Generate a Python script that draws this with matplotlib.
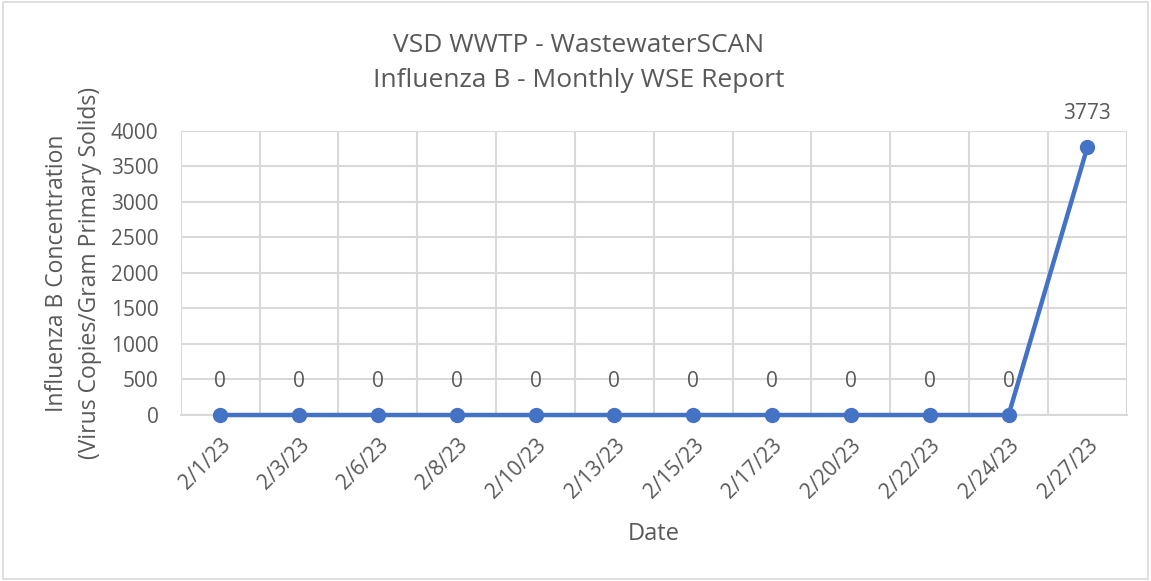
import numpy as np
import matplotlib.pyplot as plt
import matplotlib.patches as patches

dates = ['2/1/23', '2/3/23', '2/6/23', '2/8/23', '2/10/23', '2/13/23',
         '2/15/23', '2/17/23', '2/20/23', '2/22/23', '2/24/23', '2/27/23']
conc = [0, 0, 0, 0, 0, 0, 0, 0, 0, 0, 0, 3773]

yticks = [0, 500, 1000, 1500, 2000, 2500, 3000, 3500, 4000]

plt.rcParams['font.family'] = ['Open Sans', 'DejaVu Sans']
txt = '#595959'
grid = '#D9D9D9'
blue = '#4472C4'

fig = plt.figure(figsize=(11.51, 5.81), dpi=100)
ax = fig.add_axes([0.157, 0.2857, 0.822, 0.489])

x = np.arange(len(dates))
ax.plot(x, conc, color=blue, linewidth=3.2, marker='o', markersize=10, zorder=3, clip_on=False)

# value labels above each point
for xi, v in zip(x, conc):
    ax.annotate(str(v), (xi, v), xytext=(0, 24), textcoords='offset points',
                ha='center', va='center', fontsize=15, color=txt)

ax.set_xlim(-0.5, len(dates) - 0.5)
ax.set_ylim(0, 4000)
ax.set_xticks(x)
ax.set_xticklabels(dates, rotation=45, ha='right', rotation_mode='anchor', fontsize=15, color=txt)
ax.set_xticks(np.arange(-0.5, len(dates), 1), minor=True)
ax.set_yticks(yticks)
ax.set_yticklabels([str(t) for t in yticks], fontsize=15, color=txt)

ax.grid(True, which='minor', axis='x', color=grid, linewidth=1.5)
ax.grid(True, which='major', axis='y', color=grid, linewidth=1.5)
ax.tick_params(axis='both', which='both', length=0)
ax.tick_params(axis='x', pad=14)
ax.tick_params(axis='y', pad=16)
for s in ['top', 'right', 'left']:
    ax.spines[s].set_visible(False)
ax.spines['bottom'].set_color(grid)
ax.spines['bottom'].set_linewidth(1.5)

ax.set_ylabel('Influenza B Concentration\n(Virus Copies/Gram Primary Solids)', fontsize=16.5, color=txt,
              va='center', linespacing=1.5)
ax.yaxis.set_label_coords(-0.113, 0.5)
ax.set_xlabel('Date', fontsize=17, color=txt, va='center')
ax.xaxis.set_label_coords(0.5, -0.419)

fig.text(0.503, 0.922, 'VSD WWTP - WastewaterSCAN', ha='center', va='center', fontsize=19, color=txt)
fig.text(0.503, 0.862, 'Influenza B - Monthly WSE Report', ha='center', va='center', fontsize=19, color=txt)

border = patches.Rectangle((0.003, 0.004), 0.994, 0.992, transform=fig.transFigure,
                           fill=False, edgecolor=grid, linewidth=1.2)
fig.patches.append(border)

plt.savefig('out.png', dpi=100)
